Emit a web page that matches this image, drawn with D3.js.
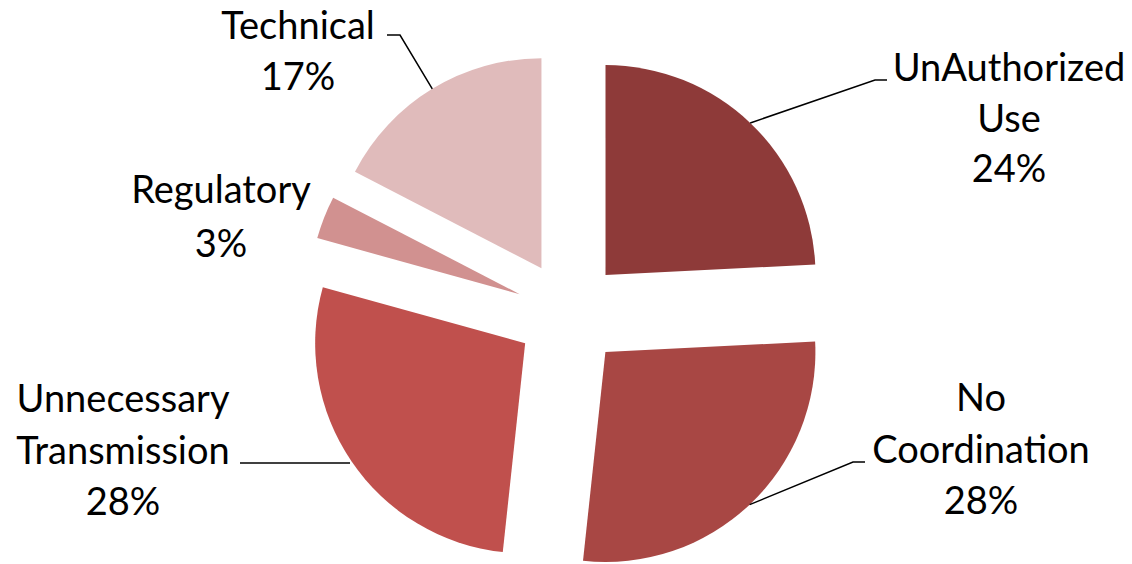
<!DOCTYPE html>
<html lang="en">
<head>
    <meta charset="UTF-8">
    <title>Pie</title>
    <script src="https://cdn.jsdelivr.net/npm/d3@7"></script>
    <style>
        body { margin: 0; background: #fff; }
        text { font-family: Lato, "Open Sans", sans-serif; fill: #000; }
    </style>
</head>
<body>
    <div id="chart"></div>
    <script>
        // data (shares in %, shown rounded)
        const categories = ["UnAuthorized Use", "No Coordination", "Unnecessary Transmission", "Regulatory", "Technical"];
        const values = [24.2, 27.5, 27.6, 3.3, 17.4];
        const colors = ["#8E3A39", "#A84744", "#C0504D", "#D19190", "#E0BBBB"];
        // how each category name is wrapped
        const nameLines = [
            ["UnAuthorized", "Use"],
            ["No", "Coordination"],
            ["Unnecessary", "Transmission"],
            ["Regulatory"],
            ["Technical"]
        ];

        const width = 1132, height = 564;
        const cx = 569, cy = 313.5, r = 210, explode = 53;

        // where each label sits: x center, first baseline, line step
        const labelPos = [
            { x: 1009, y: 81, step: 50.5 },
            { x: 981, y: 411, step: 51.5 },
            { x: 123, y: 412, step: 51.5 },
            { x: 221, y: 203, step: 54 },
            { x: 298, y: 39, step: 51 }
        ];
        // leader lines: elbow point and horizontal end (null = none)
        const leaders = [
            { ex: 875, ey: 80, hx: 887 },
            { ex: 853, ey: 462, hx: 865 },
            { ex: 350, ey: 463, hx: 240 },
            null,
            { ex: 400, ey: 35, hx: 387 }
        ];

        const svg = d3.select("#chart").append("svg")
            .attr("width", width).attr("height", height);

        const pie = d3.pie().sort(null).value(d => d)(values);
        const arc = d3.arc().innerRadius(0).outerRadius(r);

        const g = svg.append("g").attr("transform", `translate(${cx},${cy})`);

        const offset = d => {
            const a = (d.startAngle + d.endAngle) / 2;
            return [explode * Math.sin(a), -explode * Math.cos(a)];
        };

        g.selectAll("path").data(pie).enter().append("path")
            .attr("d", arc)
            .attr("fill", (d, i) => colors[i])
            .attr("transform", d => `translate(${offset(d)})`);

        // leader lines from the arc midpoint
        pie.forEach((d, i) => {
            const L = leaders[i];
            if (!L) return;
            const a = (d.startAngle + d.endAngle) / 2;
            const [ox, oy] = offset(d);
            let sx = cx + ox + r * Math.sin(a);
            let sy = cy + oy - r * Math.cos(a);
            if (i === 2) { sx = L.ex; sy = L.ey; }
            svg.append("polyline")
                .attr("points", `${sx},${sy} ${L.ex},${L.ey} ${L.hx},${L.ey}`)
                .attr("fill", "none")
                .attr("stroke", "#000")
                .attr("stroke-width", 1.5);
        });

        nameLines.forEach((lines, i) => {
            const p = labelPos[i];
            const all = lines.concat([Math.round(values[i]) + "%"]);
            const t = svg.append("text")
                .attr("text-anchor", "middle")
                .attr("font-size", 38);
            all.forEach((s, j) => {
                t.append("tspan").attr("x", p.x).attr("y", p.y + j * p.step).text(s);
            });
        });
    </script>
</body>
</html>
